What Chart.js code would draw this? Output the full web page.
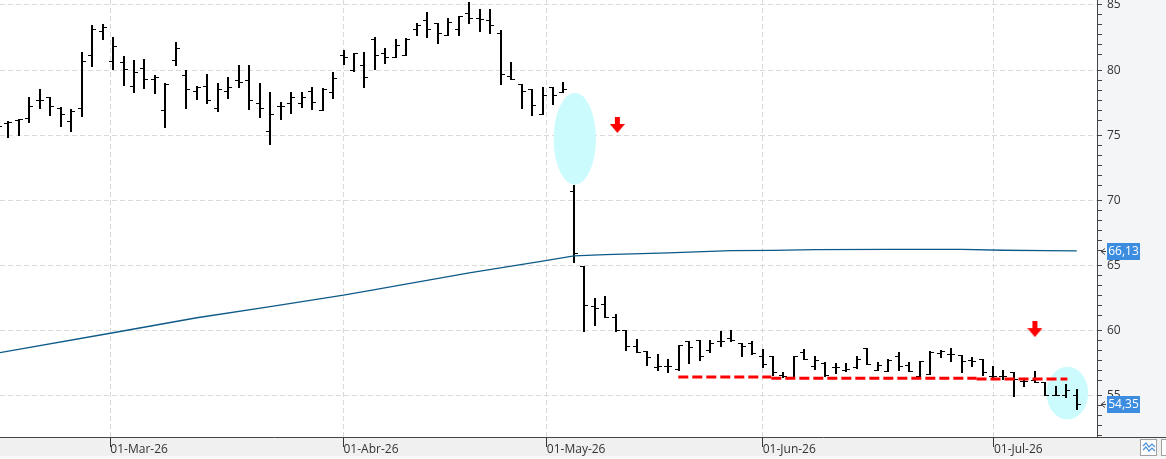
<!DOCTYPE html>
<html><head><meta charset="utf-8">
<script src="https://cdn.jsdelivr.net/npm/chart.js@4.4.1/dist/chart.umd.min.js"></script>
<style>html,body{margin:0;padding:0;background:#fff;overflow:hidden}canvas{display:block}</style>
</head><body>
<canvas id="c" width="1166" height="459"></canvas>
<script>
// ---- data (bar index 0..103, daily OHLC) ----
const opens = [75.4,75.97,76.17,76.30,77.71,77.94,77.12,76.10,77.07,81.14,82.98,80.68,80.63,78.78,80.14,79.30,76.94,80.75,79.60,78.40,78.78,77.07,78.40,79.24,79.24,77.45,75.30,77.25,77.45,77.45,78.40,76.94,78.32,81.14,79.99,80.37,82.37,81.35,80.98,81.19,83.13,83.82,83.59,82.68,83.13,84.36,83.98,83.82,82.88,79.58,78.91,78.53,76.61,78.68,78.35,70.71,64.95,61.92,62.08,61.05,60.05,58.85,58.46,57.21,57.31,57.05,59.18,59.31,58.49,59.23,59.44,59.05,59.10,58.03,58.03,56.62,56.49,58.40,57.31,57.51,57.21,56.98,57.20,58.67,57.01,56.89,58.09,57.40,56.56,56.71,58.29,58.24,58.16,57.73,57.83,56.56,56.56,56.81,56.12,56.25,56.05,55.10,55.10,55.10];
const highs = [76.1,76.12,76.25,77.94,78.55,77.94,77.20,77.02,81.39,83.47,83.54,82.54,81.09,80.78,80.83,79.63,79.04,82.16,79.99,78.78,79.71,79.01,79.47,80.40,80.40,79.01,78.32,77.53,78.30,78.30,78.68,78.61,79.88,81.55,81.35,81.39,82.52,81.70,82.37,82.44,83.59,84.46,83.59,83.98,84.16,85.26,84.67,84.67,83.08,80.60,78.91,78.53,78.68,78.68,79.09,71.17,64.95,62.51,62.69,61.31,60.05,59.36,58.46,58.21,57.82,58.92,59.18,59.31,59.31,59.95,60.08,59.05,59.23,58.59,58.03,56.80,58.03,58.59,58.03,57.64,57.51,57.50,58.06,58.67,57.60,57.83,58.37,57.58,57.70,58.42,58.55,58.67,58.16,57.98,57.83,57.27,56.96,56.81,56.38,56.89,56.05,55.79,55.92,55.54];
const lows = [75.2,74.90,75.03,76.02,77.12,76.56,75.71,75.36,76.51,80.34,82.37,80.06,78.89,78.35,78.61,78.27,75.66,80.37,77.12,77.76,77.50,76.89,77.89,78.68,77.00,76.43,74.31,76.23,76.69,77.15,77.00,76.94,77.89,80.45,79.96,78.68,80.11,80.58,80.98,81.19,82.70,82.52,82.11,82.68,82.68,83.59,83.03,82.83,78.91,79.30,77.07,76.56,76.61,77.38,78.35,65.29,60.00,60.41,61.05,60.00,58.49,58.36,57.38,57.00,56.80,57.00,57.56,57.72,58.41,58.87,59.18,58.03,58.21,57.21,56.62,56.49,56.49,57.82,57.05,56.54,56.74,56.95,57.13,57.45,56.96,56.89,57.02,56.94,56.56,56.71,57.98,57.65,56.81,57.27,56.63,56.38,56.30,55.03,55.79,56.05,55.10,55.10,54.92,54.00];
const closes = [75.71,76.0,76.25,77.22,77.71,77.22,76.61,76.87,80.68,83.13,83.29,81.83,80.06,79.86,79.30,79.45,78.94,81.67,78.53,78.73,77.71,78.53,78.71,79.12,77.71,77.07,76.61,77.25,77.91,77.96,77.53,78.53,79.37,80.98,81.29,79.45,81.14,81.04,81.96,82.39,83.47,83.13,82.83,83.67,84.16,83.98,83.93,83.47,79.71,79.30,78.40,77.33,78.09,78.09,78.55,65.93,62.00,61.74,61.05,60.05,58.85,58.36,57.97,57.26,57.26,58.92,58.79,58.08,59.10,59.18,59.26,58.85,58.28,57.46,56.80,56.54,58.03,57.82,57.72,56.62,57.21,57.03,57.86,57.45,57.40,57.78,57.27,56.94,57.65,58.34,58.42,58.24,57.65,57.65,56.81,56.50,56.50,56.30,56.12,56.05,55.10,55.10,55.48,54.35];

// moving average (read at selected bar indices)
const maIdx  = [0,11,19,26,33,36,45,52,55,58,64,70,74,78,85,92,96,100,103];
const maVals = [58.30,59.85,61.00,61.85,62.74,63.15,64.45,65.35,65.75,65.84,65.97,66.15,66.17,66.22,66.25,66.24,66.18,66.15,66.13];

// x-axis month ticks (in bar-index units) and their labels
const monthTickPos = [10.74,33.0,52.41,73.02,95.09];
const monthLabels  = ['01-Mar-26','01-Abr-26','01-May-26','01-Jun-26','01-Jul-26'];

// y-axis labelled ticks
const yMajorTicks = [55,60,65,70,75,80,85];

// annotations (data units)
const supportX0 = [64.96,73.84,93.43];
const supportX1 = [73.84,93.43,102.1];
const supportY  = [56.45,56.35,56.30];
const arrowX = [59.14,99.0];
const arrowY = [75.79,60.13];
const hlX = [55.08,102.1], hlY = [74.73,55.22], hlRX = [2.02,1.99], hlRY = [3.53,2.02];

const X_MIN = 0.2076, X_MAX = 104.93, Y_MIN = 51.85, Y_MAX = 85.38;

Chart.defaults.font.family = "'Open Sans','Noto Sans',sans-serif";
Chart.defaults.font.size = 12;

function makeArrow(){
  const c = document.createElement('canvas'); c.width = 15; c.height = 16;
  const g = c.getContext('2d'); g.fillStyle = '#ff0000';
  g.fillRect(5,0,5,7);
  g.beginPath(); g.moveTo(0,7); g.lineTo(15,7); g.lineTo(7.5,16); g.closePath(); g.fill();
  return c;
}
const arrowImg = makeArrow();

const fmt = v => v.toFixed(2).replace('.', ',');

const bgPlugin = {
  id: 'bg',
  beforeDraw(chart){
    const {ctx, chartArea: ca, width: W, height: H} = chart;
    ctx.save();
    ctx.fillStyle = '#ffffff'; ctx.fillRect(0,0,W,H);
    ctx.fillStyle = '#f4f5f7'; ctx.fillRect(ca.right,0,W-ca.right,ca.bottom);
    ctx.fillStyle = '#f0f0f0'; ctx.fillRect(0,ca.bottom,W,H-ca.bottom);
    ctx.fillStyle = '#f8f8f8'; ctx.fillRect(0,H-3,W,3);
    ctx.restore();
  },
  beforeDatasetsDraw(chart){
    const {ctx, chartArea: ca, scales: {x, y}} = chart;
    ctx.save();
    ctx.beginPath(); ctx.rect(ca.left, ca.top, ca.width, ca.height); ctx.clip();
    ctx.fillStyle = '#ccfbfd';
    for (let k = 0; k < hlX.length; k++){
      const cx = x.getPixelForValue(hlX[k]), cy = y.getPixelForValue(hlY[k]);
      const rx = Math.abs(x.getPixelForValue(hlX[k]+hlRX[k]) - cx);
      const ry = Math.abs(y.getPixelForValue(hlY[k]+hlRY[k]) - cy);
      ctx.beginPath(); ctx.ellipse(cx,cy,rx,ry,0,0,Math.PI*2); ctx.fill();
    }
    ctx.fillStyle = '#000';
    for (let i = 0; i < closes.length; i++){
      const px = Math.round(x.getPixelForValue(i));
      const yh = Math.round(y.getPixelForValue(highs[i]));
      const yl = Math.round(y.getPixelForValue(lows[i]));
      const yo = Math.round(y.getPixelForValue(opens[i]));
      const yc = Math.round(y.getPixelForValue(closes[i]));
      ctx.fillRect(px-1, yh, 2, Math.max(1, yl-yh+1));
      ctx.fillRect(px-4, yo, 3, 1);
      ctx.fillRect(px+1, yc, 3, 1);
    }
    ctx.restore();
  },
  afterDraw(chart){
    const {ctx, chartArea: ca, width: W, scales: {y}} = chart;
    ctx.save();
    ctx.strokeStyle = '#444'; ctx.lineWidth = 1;
    ctx.beginPath(); ctx.moveTo(ca.right, ca.bottom+0.5); ctx.lineTo(W, ca.bottom+0.5); ctx.stroke();
    // price tags
    const tags = [maVals[maVals.length-1], closes[closes.length-1]];
    ctx.font = "12px 'Open Sans','Noto Sans',sans-serif";
    ctx.textAlign = 'center'; ctx.textBaseline = 'middle';
    tags.forEach(v => {
      const py = Math.round(y.getPixelForValue(v));
      ctx.fillStyle = '#3c8de0';
      ctx.fillRect(ca.right+10, py-8, 33, 17);
      ctx.fillStyle = '#ffffff';
      ctx.fillText(fmt(v), ca.right+26.5, py+0.5);
      ctx.strokeStyle = '#444'; ctx.lineWidth = 1;
      ctx.beginPath(); ctx.moveTo(ca.right+8, py-2.5); ctx.lineTo(ca.right+4, py+0.5); ctx.lineTo(ca.right+8, py+3.5);
      ctx.moveTo(ca.right+4, py+0.5); ctx.lineTo(ca.right+9, py+0.5); ctx.stroke();
    });
    // corner buttons
    ctx.fillStyle = '#ffffff'; ctx.fillRect(1140.5, 439.5, 16, 16);
    ctx.strokeStyle = '#a0a0a0'; ctx.strokeRect(1140.5, 439.5, 16, 16);
    ctx.strokeStyle = '#4a90d9'; ctx.lineWidth = 1.2;
    ctx.beginPath(); ctx.moveTo(1143,446); ctx.lineTo(1146,443); ctx.lineTo(1149,447); ctx.lineTo(1152,444); ctx.lineTo(1155,447);
    ctx.moveTo(1143,450); ctx.lineTo(1146,447); ctx.lineTo(1149,451); ctx.lineTo(1152,448); ctx.lineTo(1155,451); ctx.stroke();
    ctx.fillStyle = '#ffffff'; ctx.fillRect(1161.5, 439.5, 10, 16);
    ctx.strokeStyle = '#a0a0a0'; ctx.lineWidth = 1; ctx.strokeRect(1161.5, 439.5, 10, 16);
    ctx.restore();
  }
};

const datasets = [
  { type:'line', data: maIdx.map((v,k)=>({x:v, y:maVals[k]})), borderColor:'#0d5a89', borderWidth:1.3,
    pointRadius:0, tension:0, fill:false, clip:0, order:3 }
];
for (let k = 0; k < supportY.length; k++){
  datasets.push({ type:'line', data:[{x:supportX0[k], y:supportY[k]},{x:supportX1[k], y:supportY[k]}],
    borderColor:'#ff0000', borderWidth:3, borderDash:[10,4], pointRadius:0, fill:false, clip:0, order:2 });
}
datasets.push({ type:'scatter', data: arrowX.map((v,k)=>({x:v, y:arrowY[k]})), pointStyle: arrowImg,
  pointRadius: 8, clip:0, order:1 });

new Chart(document.getElementById('c'), {
  type: 'line',
  data: { datasets },
  plugins: [bgPlugin],
  options: {
    responsive:false, animation:false,
    layout:{ padding:0, autoPadding:false },
    plugins:{ legend:{display:false}, tooltip:{enabled:false}, title:{display:false} },
    scales:{
      x:{
        type:'linear', position:'bottom', min:X_MIN, max:X_MAX,
        afterBuildTicks: s => { s.ticks = monthTickPos.map(v => ({value:v})); },
        afterFit: s => { s.height = 22; s.paddingLeft = 0; s.paddingRight = 0; s.paddingTop = 0; s.paddingBottom = 0; },
        ticks:{ autoSkip:false, maxRotation:0, minRotation:0, align:'start', padding:-5, color:'#333',
          callback:(v,i) => monthLabels[i] },
        grid:{ color:'#dadada', tickColor:'#333', tickLength:10, lineWidth:1 },
        border:{ color:'#444', width:1, dash:[5,3] }
      },
      y:{
        type:'linear', position:'right', min:Y_MIN, max:Y_MAX,
        afterFit: s => { s.width = 69; s.paddingTop = 0; s.paddingBottom = 0; s.paddingLeft = 0; s.paddingRight = 0; },
        afterBuildTicks: s => {
          const t = yMajorTicks.map(v => ({value:v}));
          yMajorTicks.forEach(m => { for (let k = 1; k <= 5; k++){ const v = m - 0.767*k; if (v > Y_MIN) t.push({value:v}); } });
          t.sort((a,b) => a.value - b.value);
          s.ticks = t;
        },
        ticks:{ autoSkip:false, padding:5, color:'#333',
          callback: v => (Math.abs(v % 5) < 1e-6 ? String(v) : '') },
        grid:{ color: c => (c.tick && Math.abs(c.tick.value % 5) < 1e-6 ? '#dadada' : 'rgba(0,0,0,0)'),
          tickColor:'#444', tickLength:5, lineWidth:1 },
        border:{ color:'#444', width:1, dash:[5,3] }
      }
    }
  }
});
</script>
</body></html>
